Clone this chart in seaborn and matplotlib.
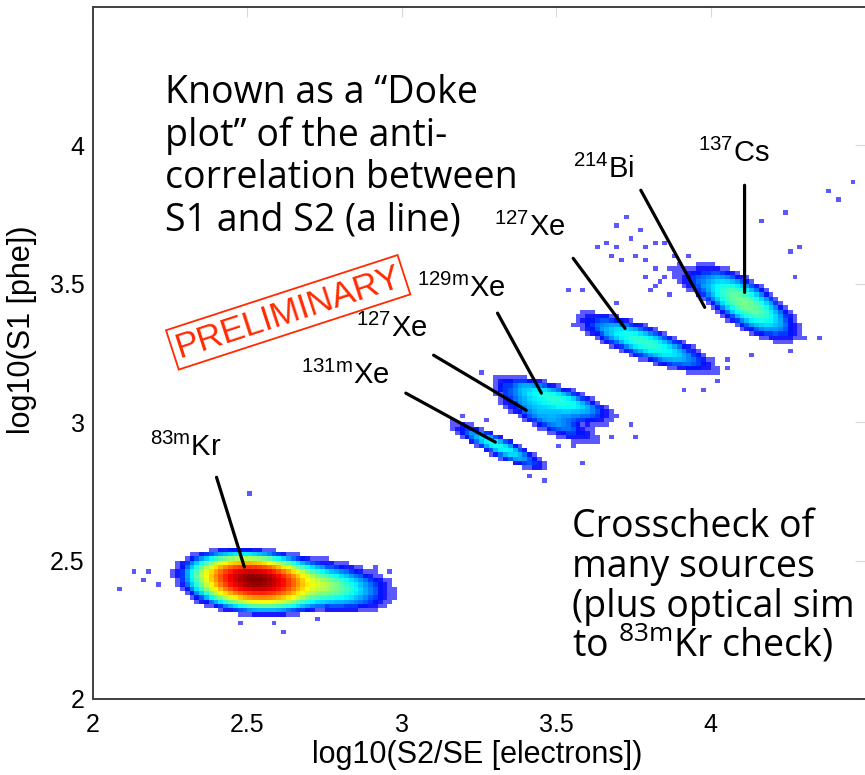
import numpy as np
import pandas as pd
import matplotlib
matplotlib.use("Agg")
import matplotlib.pyplot as plt
import seaborn as sns
from matplotlib.colors import LinearSegmentedColormap

# ---------------- data ----------------
# each population: centre, tilt, extent left/right along its axis,
# extent up/down across it, profile sharpness and peak count per cell
cluster_names = ["83mKr core", "83mKr tail", "131mXe", "127Xe low", "129mXe",
                 "127Xe high", "214Bi", "137Cs"]
cluster_x = [2.525, 2.74, 3.313, 3.46, 3.50, 3.78, 3.95, 4.11]
cluster_y = [2.432, 2.41, 2.913, 3.025, 3.085, 3.29, 3.50, 3.43]
cluster_angle = [-6, -8, -28, -30, -20, -23, -35, -36]
cluster_ext_left = [0.27, 0.25, 0.18, 0.19, 0.22, 0.24, 0.09, 0.22]
cluster_ext_right = [0.28, 0.25, 0.18, 0.20, 0.21, 0.27, 0.09, 0.22]
cluster_ext_up = [0.115, 0.10, 0.038, 0.062, 0.05, 0.062, 0.035, 0.085]
cluster_ext_down = [0.135, 0.10, 0.038, 0.05, 0.068, 0.062, 0.035, 0.085]
cluster_shape = [1.8, 1.5, 2.0, 2.0, 2.0, 2.0, 2.0, 2.0]
cluster_peak = [2000, 60, 20, 10, 24, 26, 3, 42]

# isolated single-count cells
stray_x = [4.455, 4.38, 4.41, 4.245, 4.26, 4.29, 4.27, 4.35, 4.30, 4.26, 4.17,
           3.73, 3.70, 3.77, 3.74, 3.64, 3.67, 3.70, 3.79, 3.68, 3.71, 3.545,
           3.59, 3.58, 3.56, 3.70, 3.82, 3.85, 3.76, 3.79, 3.82, 3.85, 3.79,
           3.82, 4.14, 4.03, 3.98, 3.91, 4.05, 4.05, 3.59, 3.76, 3.74, 3.68,
           3.56, 3.50, 3.25, 3.19, 3.27, 3.16, 3.41, 3.455, 3.46,
           2.50, 2.09, 2.14, 2.18, 2.17, 2.21, 2.62, 2.48, 2.58, 2.67, 2.91,
           2.955, 2.98, 2.97, 2.73, 2.89,
           3.86, 3.88, 3.84, 3.90, 3.87, 3.81, 3.93]
stray_y = [3.874, 3.84, 3.80, 3.755, 3.62, 3.635, 3.52, 3.31, 3.30, 3.255, 3.72,
           3.74, 3.71, 3.69, 3.66, 3.63, 3.65, 3.63, 3.63, 3.60, 3.59, 3.48,
           3.48, 3.39, 3.35, 3.43, 3.65, 3.645, 3.595, 3.585, 3.56, 3.52, 3.52,
           3.49, 3.24, 3.15, 3.12, 3.12, 3.22, 3.19, 2.85, 2.95, 2.995, 2.95,
           2.92, 2.91, 3.18, 3.025, 3.015, 3.00, 2.80, 2.79, 2.83,
           2.744, 2.40, 2.455, 2.455, 2.425, 2.41, 2.245, 2.28, 2.28, 2.53, 2.48,
           2.455, 2.405, 2.38, 2.29, 2.32,
           3.55, 3.60, 3.50, 3.57, 3.46, 3.47, 3.60]

# source labels
label_texts = [r"$^{\mathrm{83m}}$Kr", r"$^{\mathrm{131m}}$Xe", r"$^{\mathrm{127}}$Xe",
               r"$^{\mathrm{129m}}$Xe", r"$^{\mathrm{127}}$Xe", r"$^{\mathrm{214}}$Bi",
               r"$^{\mathrm{137}}$Cs"]
label_x = [2.184, 2.674, 2.852, 3.048, 3.297, 3.555, 3.958]
label_y = [2.877, 3.137, 3.307, 3.451, 3.671, 3.884, 3.939]
leader_start_x = [2.400, 3.013, 3.103, 3.310, 3.555, 3.774, 4.110]
leader_start_y = [2.801, 3.105, 3.242, 3.394, 3.592, 3.838, 3.856]
leader_end_x = [2.490, 3.303, 3.403, 3.452, 3.723, 3.981, 4.110]
leader_end_y = [2.477, 2.928, 3.043, 3.105, 3.339, 3.415, 3.469]

x_ticks = [2, 2.5, 3, 3.5, 4]
y_ticks = [2, 2.5, 3, 3.5, 4]

# ---------------- build the 2-D histogram table ----------------
x_edges = np.linspace(2.0, 4.5, 161)
y_edges = np.linspace(2.0, 4.5, 161)
xc = 0.5 * (x_edges[:-1] + x_edges[1:])
yc = 0.5 * (y_edges[:-1] + y_edges[1:])
XX, YY = np.meshgrid(xc, yc, indexing="ij")
counts = np.zeros_like(XX)
for cx, cy, ang, el, er, eu, ed, p, pk in zip(
        cluster_x, cluster_y, cluster_angle, cluster_ext_left, cluster_ext_right,
        cluster_ext_up, cluster_ext_down, cluster_shape, cluster_peak):
    t = np.deg2rad(ang)
    dx, dy = XX - cx, YY - cy
    u = dx * np.cos(t) + dy * np.sin(t)
    v = -dx * np.sin(t) + dy * np.cos(t)
    eu_ = np.where(u > 0, er, el)
    ev_ = np.where(v > 0, eu, ed)
    r = np.sqrt((u / eu_) ** 2 + (v / ev_) ** 2)
    counts += np.where(r < 1, pk ** (1 - np.clip(r, 0, 1) ** p), 0.0)
counts = np.floor(counts)
stray, _, _ = np.histogram2d(stray_x, stray_y, bins=[x_edges, y_edges])
counts = np.where(counts > 0, counts, np.minimum(stray, 1))

df = pd.DataFrame({"x": XX.ravel(), "y": YY.ravel(), "w": counts.ravel()})
df = df[df["w"] > 0]

# ---------------- style ----------------
sns.set_style("white")
plt.rcParams["font.family"] = ["Liberation Sans", "DejaVu Sans"]
plt.rcParams["text.color"] = "black"
plt.rcParams["axes.labelcolor"] = "black"
plt.rcParams["mathtext.fontset"] = "custom"
plt.rcParams["mathtext.rm"] = "Liberation Sans"
plt.rcParams["mathtext.sf"] = "Open Sans"

cmap = LinearSegmentedColormap.from_list(
    "doke",
    [(0.35, 0.35, 1.0), (0.0, 0.0, 1.0), (0.0, 0.5, 1.0), (0.0, 1.0, 1.0),
     (0.5, 1.0, 0.5), (1.0, 1.0, 0.0), (1.0, 0.5, 0.0), (1.0, 0.0, 0.0),
     (0.5, 0.0, 0.0)])

fig = plt.figure(figsize=(8.65, 7.75), dpi=100)
ax = fig.add_axes([93 / 865, 76 / 775, 1 - 93 / 865, (699 - 7) / 775])

sns.histplot(data=df, x="x", y="y", weights="w", bins=[x_edges, y_edges],
             cmap=cmap, norm="log", vmin=1, ax=ax)

ax.set_xlim(2, 4.5)
ax.set_ylim(2, 4.5)
ax.set_xticks(x_ticks)
ax.set_yticks(y_ticks)
ax.set_xticklabels([f"{v:g}" for v in x_ticks])
ax.set_yticklabels([f"{v:g}" for v in y_ticks])
ax.tick_params(direction="in", length=7, color="#d8d8d8", labelsize=18,
               top=True, right=True, labelcolor="black")
ax.tick_params(axis="x", pad=10)
ax.tick_params(axis="y", pad=6)
for side in ["left", "bottom", "top"]:
    ax.spines[side].set_color("#404040")
    ax.spines[side].set_linewidth(1.4)
ax.spines["right"].set_visible(False)
ax.set_xlabel("log10(S2/SE [electrons])", fontsize=22)
ax.set_ylabel("log10(S1 [phe])", fontsize=22)
ax.xaxis.set_label_coords((477 - 93) / 772, -(740 - 699) / 692)
ax.yaxis.set_label_coords(-(93 - 37) / 772, (699 - 330) / 692)

# leader lines and source labels
for sx, sy, ex, ey in zip(leader_start_x, leader_start_y, leader_end_x, leader_end_y):
    ax.annotate("", xy=(ex, ey), xytext=(sx, sy),
                arrowprops=dict(arrowstyle="-", color="black", lw=2.3,
                                shrinkA=0, shrinkB=0))
for txt, lx, ly in zip(label_texts, label_x, label_y):
    ax.text(lx, ly, txt, fontsize=21, ha="left", va="baseline")

# PRELIMINARY stamp
ax.text(2.632, 3.397, "PRELIMINARY", color="#ff2a00", fontsize=25, rotation=18,
        ha="center", va="center", rotation_mode="anchor",
        bbox=dict(boxstyle="square,pad=0.12", fc="none", ec="#ff2a00", lw=1.3))

# explanatory texts
big_font = ["Open Sans", "DejaVu Sans"]
left_lines = ["Known as a \u201cDoke", "plot\u201d of the anti-",
              "correlation between", "S1 and S2 (a line)"]
left_base = [103, 146, 188, 231]
for s, b in zip(left_lines, left_base):
    fig.text(165 / 865, 1 - b / 775, s, fontsize=27, ha="left", va="baseline",
             family=big_font)
right_lines = ["Crosscheck of", "many sources", "(plus optical sim",
               r"to $\mathsf{^{83m}}$Kr check)"]
right_base = [537, 577, 617, 657]
for s, b in zip(right_lines, right_base):
    fig.text(572 / 865, 1 - b / 775, s, fontsize=27, ha="left", va="baseline",
             family=big_font)

fig.savefig("out.png", dpi=100)
